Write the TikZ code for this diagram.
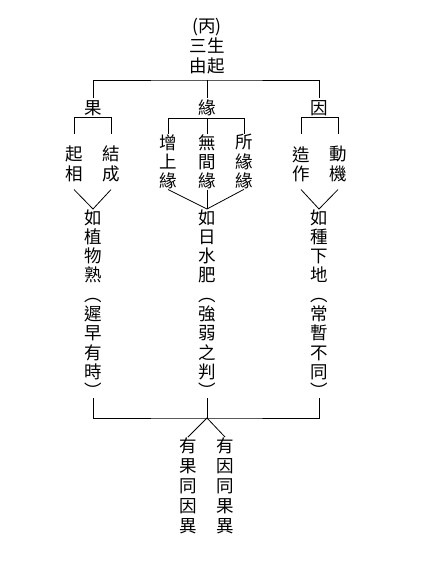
\documentclass[tikz,border=0pt]{standalone}
\usepackage{fontspec}
\newfontfamily\cjk{Noto Sans CJK TC}
\begin{document}
\begin{tikzpicture}[x=1pt,y=-1pt,line width=0.8pt,
	every node/.style={inner sep=0pt,font=\cjk\fontsize{17.5}{19.3}\selectfont},
	col/.style={align=center,anchor=north},
	pair/.style={align=center},
	head/.style={inner ysep=1.5pt}]

	\useasboundingbox (0,0) rectangle (421,561);

	% Titolo
	\node[align=center,font=\cjk\fontsize{17.5}{20}\selectfont] (title) at (207,46) {(丙)\\三生\\由起};
	\coordinate (top) at (207,80);

	% Primo livello
	\node[head] (guo) at (93,108) {果};
	\node[head] (yuan) at (207,108) {緣};
	\node[head] (yin) at (319,108) {因};
	\draw (guo.north) |- (top) -| (yin.north);
	\draw (top) -- (yuan.north);

	% Secondo livello
	\node[pair] (qixiang) at (74,164) {起\\相};
	\node[pair] (jiecheng) at (111,164) {結\\成};
	\node[col] (zeng) at (168,134) {增\\上\\緣};
	\node[col] (wu) at (207,134) {無\\間\\緣};
	\node[col] (suo) at (244,134) {所\\緣\\緣};
	\node[pair] (zaozuo) at (301,164) {造\\作};
	\node[pair] (dongji) at (338,164) {動\\機};

	\draw (qixiang.north |- zeng.north) |- (guo.south) -| (jiecheng.north |- zeng.north);
	\draw (zeng.north) |- (yuan.south) -| (suo.north);
	\draw (yuan.south) -- (wu.north);
	\draw (zaozuo.north |- zeng.north) |- (yin.south) -| (dongji.north |- zeng.north);

	% Colonne lunghe
	\node[col] (ru1) at (93,209) {如\\植\\物\\熟\\︵\\遲\\早\\有\\時\\︶};
	\node[col] (ru2) at (207,209) {如\\日\\水\\肥\\︵\\強\\弱\\之\\判\\︶};
	\node[col] (ru3) at (319,209) {如\\種\\下\\地\\︵\\常\\暫\\不\\同\\︶};

	\draw (qixiang.south |- zeng.south) -- (ru1.north) -- (jiecheng.south |- zeng.south);
	\draw (zeng.south) -- (ru2.north) -- (suo.south);
	\draw (wu.south) -- (ru2.north);
	\draw (zaozuo.south |- zeng.south) -- (ru3.north) -- (dongji.south |- zeng.south);

	% Chiusura in basso
	\coordinate (tick) at (207,398);
	\coordinate (join) at (207,418);
	\draw (ru1 |- tick) |- (join) -| (ru3 |- tick);
	\draw (tick) -- (join);

	\node[col,font=\cjk\fontsize{17.5}{20}\selectfont] (guoyin) at (188,437) {有\\果\\同\\因\\異};
	\node[col,font=\cjk\fontsize{17.5}{20}\selectfont] (yinguo) at (225,437) {有\\因\\同\\果\\異};
	\draw (guoyin.north) -- (join) -- (yinguo.north);

\end{tikzpicture}
\end{document}
